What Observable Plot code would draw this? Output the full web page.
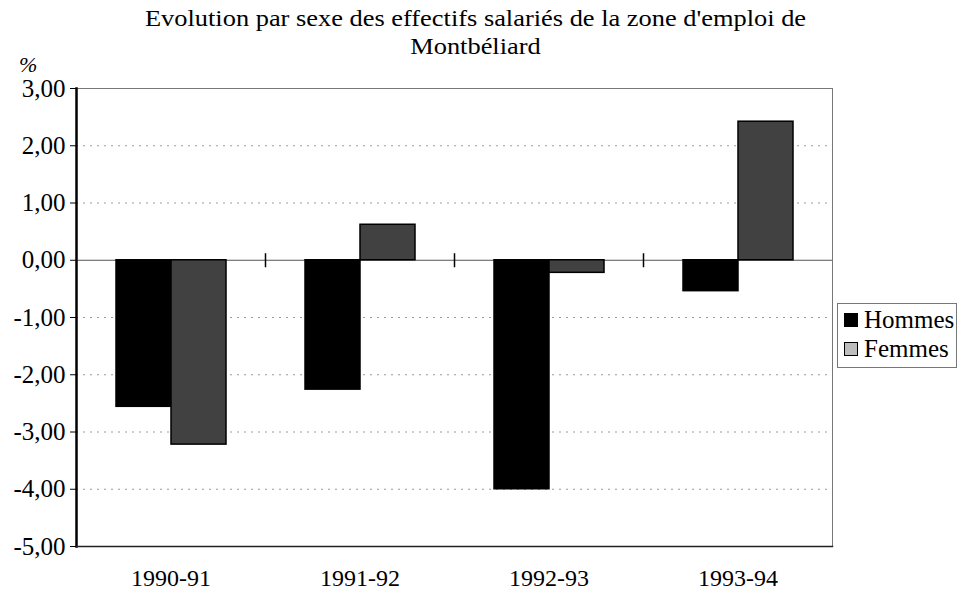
<!DOCTYPE html>
<html>
<head>
<meta charset="utf-8">
<script src="https://cdn.jsdelivr.net/npm/d3@7"></script>
<script src="https://cdn.jsdelivr.net/npm/@observablehq/plot@0.6"></script>
<style>
  html, body { margin: 0; padding: 0; background: #fff; }
  #wrap { position: relative; width: 959px; height: 594px; overflow: hidden; font-family: "Liberation Serif", "DejaVu Serif", serif; color: #000; }
  #title { position: absolute; left: 0; width: 950px; top: 4px; text-align: center; font-size: 24px; line-height: 28px; }
  #title span { display: inline-block; transform: scaleX(1.1); }
  #unit { position: absolute; left: 19px; top: 52px; font-size: 22px; font-style: italic; }
  #chart { position: absolute; left: 0; top: 62px; }
  #chart svg, #chart svg text { font-family: "Liberation Serif", "DejaVu Serif", serif !important; }
  #legend { position: absolute; left: 837px; top: 303px; width: 120px; height: 65px; border: 1px solid #777; box-sizing: border-box; font-size: 25px; }
  .item { position: absolute; left: 6px; display: flex; align-items: center; }
  .sw { width: 12px; height: 12px; border: 1.5px solid #000; margin-right: 6px; }
</style>
</head>
<body>
<div id="wrap">
  <div id="title"><span>Evolution par sexe des effectifs salariés de la zone d'emploi de<br>Montbéliard</span></div>
  <div id="unit">%</div>
  <div id="chart"></div>
  <div id="legend"></div>
</div>
<script>
const periods = ["1990-91", "1991-92", "1992-93", "1993-94"];
const series = ["Hommes", "Femmes"];
const hommes = [-2.56, -2.26, -4.00, -0.54];
const femmes = [-3.22, 0.62, -0.22, 2.42];
const yTicks = [3, 2, 1, 0, -1, -2, -3, -4, -5];
const gridTicks = [2, 1, -1, -2, -3, -4];
const colors = ["#000000", "#414141"];
const legendSwatches = ["#000000", "#bdbdbd"];

const data = periods.flatMap((p, i) => [
  {period: p, sex: series[0], value: hommes[i]},
  {period: p, sex: series[1], value: femmes[i]}
]);

const fr = d3.formatLocale({decimal: ",", thousands: " ", grouping: [3], currency: ["", " €"], minus: "-"});
const fmt = fr.format(".2f");

const W = 959, H = 532;
const mTop = 26, mBottom = 48, mLeft = 75, mRight = 126;

const vline = (len) => ({draw(ctx) { ctx.moveTo(0, -len / 2); ctx.lineTo(0, len / 2); }});

const chart = Plot.plot({
  width: W,
  height: H,
  marginTop: mTop,
  marginBottom: mBottom,
  marginLeft: mLeft,
  marginRight: mRight,
  style: {fontFamily: "'Liberation Serif', serif", fontSize: "22px", color: "#000", background: "transparent"},
  fx: {domain: periods, padding: 0},
  x: {domain: series, paddingInner: 0, paddingOuter: 0.7, axis: null},
  y: {domain: [-5, 3]},
  color: {domain: series, range: colors},
  marks: [
    Plot.gridY(gridTicks, {stroke: "#9a9a9a", strokeOpacity: 1, strokeDasharray: "2,5"}),
    Plot.ruleY([0], {stroke: "#555"}),
    Plot.barY(data, {fx: "period", x: "sex", y: "value", fill: "sex", stroke: "#000", strokeWidth: 1.5}),
    Plot.dot(periods.slice(0, -1), {fx: d => d, y: () => 0, frameAnchor: "right", symbol: vline(14), r: 1, stroke: "#000", strokeWidth: 1.5, fill: "none"}),
    Plot.frame({facet: "super", stroke: "#777"}),
    Plot.frame({facet: "super", anchor: "left", stroke: "#000", strokeWidth: 2.5}),
    Plot.frame({facet: "super", anchor: "bottom", stroke: "#222", strokeWidth: 1.5}),
    Plot.axisY({ticks: yTicks, tickFormat: fmt, tickSize: 6, tickPadding: 5, label: null, fontSize: 25}),
    Plot.axisFx({anchor: "bottom", tickSize: 0, tickPadding: 22, label: null, fontSize: 24})
  ]
});
document.getElementById("chart").appendChild(chart);

const legend = document.getElementById("legend");
series.forEach((s, i) => {
  const it = document.createElement("div");
  it.className = "item";
  it.style.top = (2 + i * 29) + "px";
  const sw = document.createElement("div");
  sw.className = "sw";
  sw.style.background = legendSwatches[i];
  const t = document.createElement("span");
  t.textContent = s;
  it.appendChild(sw);
  it.appendChild(t);
  legend.appendChild(it);
});
</script>
</body>
</html>
